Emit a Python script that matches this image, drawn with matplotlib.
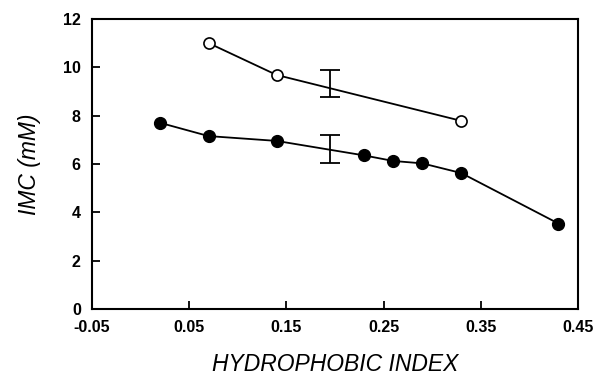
import matplotlib
matplotlib.use("Agg")
import matplotlib.pyplot as plt

# filled circles series
x_filled = [0.02, 0.07, 0.14, 0.23, 0.26, 0.29, 0.33, 0.43]
y_filled = [7.70, 7.15, 6.95, 6.35, 6.12, 6.02, 5.62, 3.53]

# open circles series
x_open = [0.07, 0.14, 0.33]
y_open = [11.0, 9.68, 7.78]

# representative error bars (x, centre, half-width)
err_x = [0.195, 0.195]
err_y = [9.32, 6.62]
err_h = [0.56, 0.58]

x_ticks = [-0.05, 0.05, 0.15, 0.25, 0.35, 0.45]
y_ticks = [0, 2, 4, 6, 8, 10, 12]

plt.rcParams['font.family'] = ['Liberation Sans', 'DejaVu Sans']

fig = plt.figure(figsize=(5.97, 3.78), dpi=100)
ax = fig.add_axes([0.154, 0.183, 0.814, 0.767])

ax.plot(x_filled, y_filled, color='black', lw=1.3, marker='o', ms=8.5,
        markerfacecolor='black', markeredgecolor='black', zorder=3)
ax.plot(x_open, y_open, color='black', lw=1.3, marker='o', ms=8,
        markerfacecolor='white', markeredgecolor='black', markeredgewidth=1.2, zorder=3)
ax.errorbar(err_x, err_y, yerr=err_h, fmt='none', ecolor='black',
            elinewidth=1.3, capsize=7.5, capthick=1.3, zorder=4)

ax.set_xlim(-0.05, 0.45)
ax.set_ylim(0, 12)
ax.set_xticks(x_ticks)
ax.set_xticklabels([f"{v:.2f}" for v in x_ticks])
ax.set_yticks(y_ticks)
ax.tick_params(direction='in', length=6, width=1.3, labelsize=11.5, pad=8)
for lab in ax.get_xticklabels() + ax.get_yticklabels():
    lab.set_fontweight('bold')
for sp in ax.spines.values():
    sp.set_linewidth(1.5)

ax.set_xlabel("HYDROPHOBIC INDEX", fontsize=16.5, fontstyle='italic', labelpad=13)
ax.set_ylabel("IMC (mM)", fontsize=16.5, fontstyle='italic', labelpad=16)

fig.savefig("out.png", dpi=100)
